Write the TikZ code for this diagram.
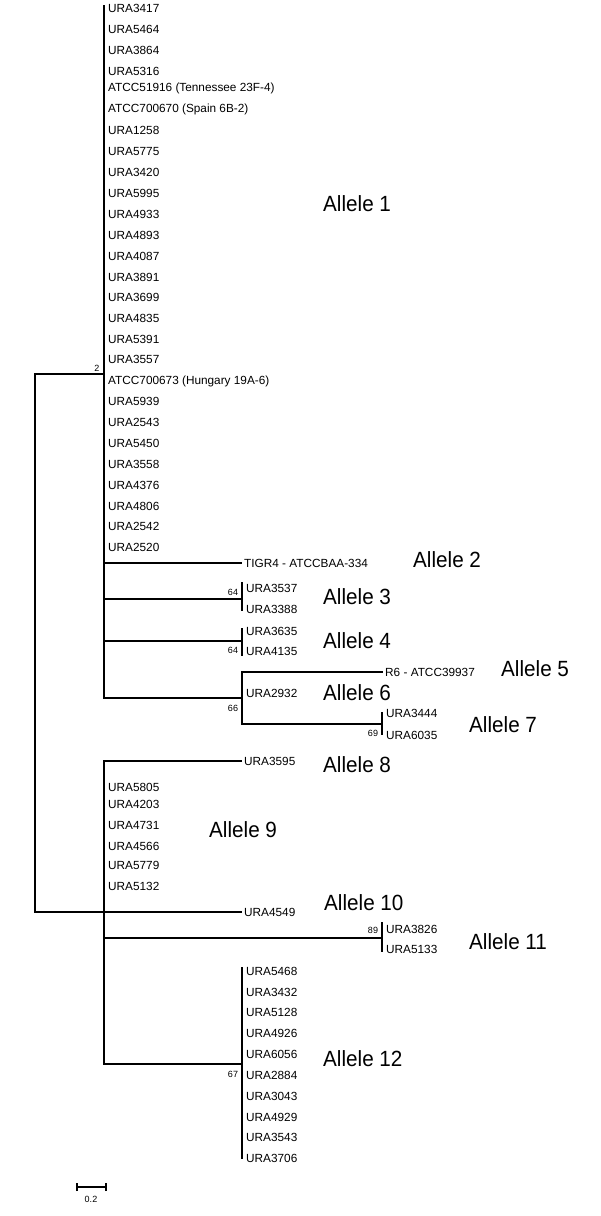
\documentclass[tikz,border=0pt]{standalone}
\usepackage{fontspec}
\setmainfont{Liberation Sans}
\newfontfamily\allelefont[FakeStretch=0.94]{Liberation Sans}
\begin{document}
\begin{tikzpicture}[x=1pt,y=-1pt,
  br/.style={line width=1.3pt,line cap=rect},
  leaf/.style={anchor=west,inner sep=0pt,font=\fontsize{11.8}{13}\selectfont},
  tip/.style={leaf,inner xsep=3pt},
  boot/.style={inner sep=0pt,font=\fontsize{9}{10}\selectfont},
  allele/.style={anchor=west,inner sep=0pt,font=\allelefont\fontsize{22}{24}\selectfont}]
\useasboundingbox[fill=white] (0,0) rectangle (600,1216);
% ---------- internal coordinates ----------
\coordinate (r1) at (35,374);
\coordinate (r2) at (35,912);
\coordinate (Atop) at (104,6);
\coordinate (A) at (104,374);
\coordinate (Abot) at (104,698);
\coordinate (A2) at (104,563);
\coordinate (A3) at (104,599);
\coordinate (A4) at (104,641);
\coordinate (n3) at (242,599);
\coordinate (n3t) at (242,583);
\coordinate (n3b) at (242,610);
\coordinate (n4) at (242,641);
\coordinate (n4t) at (242,629);
\coordinate (n4b) at (242,655);
\coordinate (n66) at (242,698);
\coordinate (n66t) at (242,672);
\coordinate (n66b) at (242,724);
\coordinate (n69) at (382,724);
\coordinate (n69t) at (382,713);
\coordinate (n69b) at (382,734);
\coordinate (Btop) at (104,761);
\coordinate (B11) at (104,938);
\coordinate (Bbot) at (104,1064);
\coordinate (n89) at (382,938);
\coordinate (n89t) at (382,923);
\coordinate (n89b) at (382,951);
\coordinate (n67) at (242,1064);
\coordinate (n67t) at (242,968);
\coordinate (n67b) at (242,1158);
% ---------- leaves, clade A ----------
\foreach \n/\y/\t in {1/8/URA3417,2/29/URA5464,3/50/URA3864,4/71/URA5316,
  5/88/{ATCC51916 (Tennessee 23F-4)},6/109/{ATCC700670 (Spain 6B-2)},
  7/130/URA1258,8/151/URA5775,9/172/URA3420,10/193/URA5995,11/214/URA4933,
  12/235/URA4893,13/256/URA4087,14/277/URA3891,15/297/URA3699,16/318/URA4835,
  17/339/URA5391,18/359/URA3557,19/381/{ATCC700673 (Hungary 19A-6)},
  20/401/URA5939,21/422/URA2543,22/443/URA5450,23/464/URA3558,24/485/URA4376,
  25/506/URA4806,26/526/URA2542,27/547/URA2520}
  \node[leaf] (a\n) at (108,\y) {\t};
\node[tip] (tigr) at (241,563) {TIGR4 - ATCCBAA-334};
\node[leaf] (u3537) at (246,588) {URA3537};
\node[leaf] (u3388) at (246,609) {URA3388};
\node[leaf] (u3635) at (246,631) {URA3635};
\node[leaf] (u4135) at (246,651) {URA4135};
\node[tip] (r6) at (382,672) {R6 - ATCC39937};
\node[leaf] (u2932) at (246,693) {URA2932};
\node[leaf] (u3444) at (386,713) {URA3444};
\node[leaf] (u6035) at (386,735) {URA6035};
% ---------- leaves, clade B ----------
\node[tip] (u3595) at (241,761) {URA3595};
\foreach \n/\y/\t in {1/787/URA5805,2/804/URA4203,3/825/URA4731,4/846/URA4566,
  5/865/URA5779,6/886/URA5132}
  \node[leaf] (b\n) at (108,\y) {\t};
\node[tip] (u4549) at (241,912) {URA4549};
\node[leaf] (u3826) at (386,929) {URA3826};
\node[leaf] (u5133) at (386,949) {URA5133};
\foreach \n/\y/\t in {1/971/URA5468,2/992/URA3432,3/1012/URA5128,4/1033/URA4926,
  5/1054/URA6056,6/1075/URA2884,7/1096/URA3043,8/1117/URA4929,9/1137/URA3543,
  10/1158/URA3706}
  \node[leaf] (c\n) at (246,\y) {\t};
% ---------- branches ----------
\draw[br] (r1) -- (A);
\draw[br] (r1) -- (r2);
\draw[br] (r2) -- (u4549.west);
\draw[br] (Atop) -- (Abot);
\draw[br] (A2) -- (tigr.west);
\draw[br] (A3) -- (n3);
\draw[br] (n3t) -- (n3b);
\draw[br] (A4) -- (n4);
\draw[br] (n4t) -- (n4b);
\draw[br] (Abot) -- (n66);
\draw[br] (n66t) -- (n66b);
\draw[br] (n66t) -- (r6.west);
\draw[br] (n66b) -- (n69);
\draw[br] (n69t) -- (n69b);
\draw[br] (Btop) -- (Bbot);
\draw[br] (Btop) -- (u3595.west);
\draw[br] (B11) -- (n89);
\draw[br] (n89t) -- (n89b);
\draw[br] (Bbot) -- (n67);
\draw[br] (n67t) -- (n67b);
% ---------- bootstrap values ----------
\node[boot] (bs2) at (97,368) {2};
\node[boot] (bs3) at (233,592) {64};
\node[boot] (bs4) at (233,650) {64};
\node[boot] (bs66) at (233,708) {66};
\node[boot] (bs69) at (373,733) {69};
\node[boot] (bs89) at (373,930) {89};
\node[boot] (bs67) at (233,1074) {67};
% ---------- allele labels ----------
\node[allele] (al1) at (323,204) {Allele 1};
\node[allele] (al2) at (413,560) {Allele 2};
\node[allele] (al3) at (323,597) {Allele 3};
\node[allele] (al4) at (323,641) {Allele 4};
\node[allele] (al5) at (501,669) {Allele 5};
\node[allele] (al6) at (323,693) {Allele 6};
\node[allele] (al7) at (469,725) {Allele 7};
\node[allele] (al8) at (323,765) {Allele 8};
\node[allele] (al9) at (209,830) {Allele 9};
\node[allele] (al10) at (324,903) {Allele 10};
\node[allele] (al11) at (469,942) {Allele 11};
\node[allele] (al12) at (323,1059) {Allele 12};
% ---------- scale bar ----------
\coordinate (sb1) at (77,1187);
\coordinate (sb2) at (106,1187);
\draw[line width=1.2pt] (sb1) -- (sb2);
\draw[line width=1.2pt] ([yshift=-4pt]sb1) -- ([yshift=4pt]sb1);
\draw[line width=1.2pt] ([yshift=-4pt]sb2) -- ([yshift=4pt]sb2);
\node[boot] (sbl) at (91,1199) {0.2};
\end{tikzpicture}
\end{document}
